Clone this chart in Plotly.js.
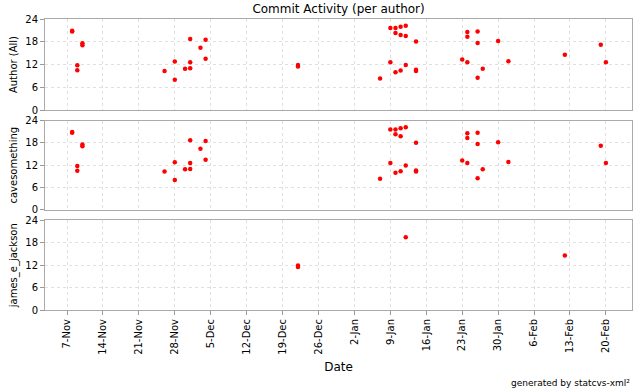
<!DOCTYPE html>
<html>
<head>
<meta charset="utf-8">
<script src="https://cdn.plot.ly/plotly-3.0.1.min.js"></script>
<style>html,body{margin:0;padding:0;background:#fff;}#chart{width:640px;height:390px;}</style>
</head>
<body>
<div id="chart"></div>
<script>
// Commits by cavesomething: date and hour of day
var caveDates = [
  "2004-11-08","2004-11-08","2004-11-09","2004-11-09","2004-11-10","2004-11-10",
  "2004-11-26","2004-11-28","2004-11-28","2004-11-30",
  "2004-12-01","2004-12-01","2004-12-01","2004-12-03","2004-12-04","2004-12-04",
  "2005-01-07","2005-01-09","2005-01-09",
  "2005-01-10","2005-01-10","2005-01-10",
  "2005-01-11","2005-01-11","2005-01-11",
  "2005-01-12","2005-01-12",
  "2005-01-14","2005-01-14","2005-01-14",
  "2005-01-23","2005-01-24","2005-01-24","2005-01-24",
  "2005-01-26","2005-01-26","2005-01-26","2005-01-27",
  "2005-01-30","2005-02-01","2005-02-19","2005-02-20"
];
var caveHours = [
  20.9, 20.7, 11.8, 10.5, 17.6, 17.1,
  10.3, 12.8, 8.0, 10.9,
  18.7, 12.6, 11.0, 16.4, 18.5, 13.5,
  8.35, 21.6, 12.6,
  21.6, 20.3, 10.0,
  21.95, 19.8, 10.4,
  22.2, 11.9,
  18.05, 10.6, 10.3,
  13.3, 20.6, 19.3, 12.6,
  20.7, 17.7, 8.5, 10.9,
  18.2, 12.9, 17.2, 12.6
];
// Commits by james_e_jackson
var jamesDates = ["2004-12-22","2004-12-22","2005-01-12","2005-02-12"];
var jamesHours = [11.5, 11.9, 19.5, 14.6];

// All authors
var allDates = caveDates.concat(jamesDates);
var allHours = caveHours.concat(jamesHours);

var authorLabels = ["Author (All)", "cavesomething", "james_e_jackson"];
var tickDates = ["2004-11-07","2004-11-14","2004-11-21","2004-11-28","2004-12-05","2004-12-12",
  "2004-12-19","2004-12-26","2005-01-02","2005-01-09","2005-01-16","2005-01-23","2005-01-30",
  "2005-02-06","2005-02-13","2005-02-20"];
var tickLabels = ["7-Nov","14-Nov","21-Nov","28-Nov","5-Dec","12-Dec","19-Dec","26-Dec",
  "2-Jan","9-Jan","16-Jan","23-Jan","30-Jan","6-Feb","13-Feb","20-Feb"];
var hourTicks = [0, 6, 12, 18, 24];

var FONT = "DejaVu Sans, sans-serif";
var marker = {color: "#ff0000", size: 4.5, symbol: "circle", line: {width: 0}};

var traces = [
  {x: allDates, y: allHours, xaxis: "x", yaxis: "y", type: "scatter", mode: "markers", marker: marker},
  {x: caveDates, y: caveHours, xaxis: "x2", yaxis: "y2", type: "scatter", mode: "markers", marker: marker},
  {x: jamesDates, y: jamesHours, xaxis: "x3", yaxis: "y3", type: "scatter", mode: "markers", marker: marker}
];

var xrange = ["2004-11-02 17:00", "2005-02-25 02:00"];
function xax(anchor, showLabels) {
  return {
    type: "date", range: xrange, anchor: anchor,
    tickvals: tickDates, ticktext: tickLabels,
    showticklabels: showLabels, tickangle: -90,
    ticks: showLabels ? "outside" : "", ticklen: 4, tickcolor: "#999",
    tickfont: {family: FONT, size: 10, color: "#000"},
    showgrid: true, gridcolor: "#e0e0e0", griddash: "3px,3px", gridwidth: 1,
    showline: true, mirror: true, linecolor: "#aaaaaa", linewidth: 1,
    zeroline: false, fixedrange: true
  };
}
function yax(anchor, domain, label) {
  return {
    anchor: anchor, domain: domain, range: [0, 24],
    tickvals: hourTicks, ticks: "outside", ticklen: 4, tickcolor: "#999",
    tickfont: {family: FONT, size: 10, color: "#000"},
    showgrid: true, gridcolor: "#e0e0e0", griddash: "3px,3px", gridwidth: 1,
    showline: true, mirror: true, linecolor: "#aaaaaa", linewidth: 1,
    zeroline: false, fixedrange: true,
    title: {text: label, font: {family: FONT, size: 10, color: "#000"}, standoff: 5}
  };
}

var xb = xax("y3", true);
xb.title = {text: "Date", font: {family: FONT, size: 12, color: "#000"}, standoff: 8};

var layout = {
  width: 640, height: 390,
  margin: {l: 45, r: 8, t: 19, b: 80},
  paper_bgcolor: "#ffffff", plot_bgcolor: "#ffffff",
  showlegend: false,
  title: {text: "Commit Activity (per author)", font: {family: FONT, size: 12, color: "#000"},
          x: 0.529, xanchor: "center", y: 0.978, yanchor: "middle", yref: "container"},
  xaxis: xax("y", false),
  xaxis2: xax("y2", false),
  xaxis3: xb,
  yaxis: yax("x", [0.687, 1], authorLabels[0]),
  yaxis2: yax("x2", [0.344, 0.651], authorLabels[1]),
  yaxis3: yax("x3", [0, 0.308], authorLabels[2]),
  annotations: [{
    text: "generated by statcvs-xml\u00b2", xref: "paper", yref: "paper",
    x: 1.0, y: -0.252, xanchor: "right", yanchor: "middle", showarrow: false,
    font: {family: FONT, size: 9, color: "#000"}
  }]
};

Plotly.newPlot("chart", traces, layout, {displayModeBar: false, staticPlot: true});
</script>
</body>
</html>
